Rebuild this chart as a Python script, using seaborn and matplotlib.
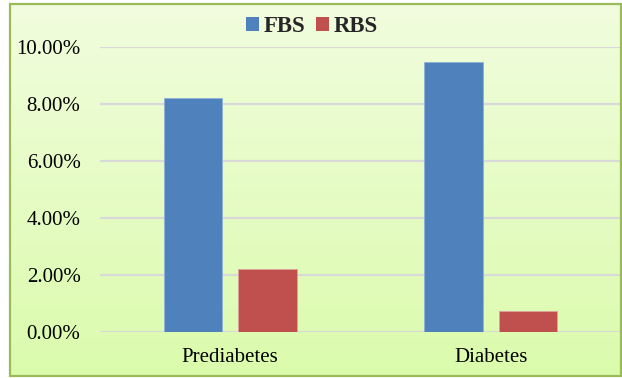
import numpy as np
import pandas as pd
import matplotlib
matplotlib.use("Agg")
import matplotlib.pyplot as plt
from matplotlib.patches import Rectangle, Patch
from matplotlib.ticker import PercentFormatter
import seaborn as sns

categories = ["Prediabetes", "Diabetes"]
fbs_values = [0.0821, 0.0946]
rbs_values = [0.0222, 0.0076]
series_names = ["FBS", "RBS"]
y_ticks = [0.0, 0.02, 0.04, 0.06, 0.08, 0.10]

df = pd.DataFrame({
    "group": categories * 2,
    "test": [series_names[0]] * 2 + [series_names[1]] * 2,
    "value": fbs_values + rbs_values,
})

sns.set_theme(style="white")
plt.rcParams["font.family"] = ["Liberation Serif", "DejaVu Serif"]

W, H = 622, 378
fig = plt.figure(figsize=(W / 100, H / 100), dpi=100)
fig.patch.set_facecolor("white")

# gradient panel inside the chart border
bx0, by0, bx1, by1 = 10, 4, 621, 376
bg = fig.add_axes([bx0 / W, 1 - by1 / H, (bx1 - bx0) / W, (by1 - by0) / H], zorder=0)
top = np.array([241, 253, 222]) / 255
bot = np.array([219, 251, 172]) / 255
t = np.linspace(0, 1, 256)[:, None]
grad = (top[None, :] * (1 - t) + bot[None, :] * t)[:, None, :]
bg.imshow(grad, aspect="auto", extent=[0, 1, 0, 1], interpolation="bilinear")
bg.set_axis_off()
fig.patches.append(Rectangle((bx0 / W, 1 - by1 / H), (bx1 - bx0) / W, (by1 - by0) / H,
                             transform=fig.transFigure, fill=False,
                             edgecolor="#9BBB59", linewidth=1.6, zorder=5))

# plotting area
left, right, ytop, ybot = 100, 621, 46.7, 332.3
ax = fig.add_axes([left / W, 1 - ybot / H, (right - left) / W, (ybot - ytop) / H], zorder=1)
ax.patch.set_alpha(0)

palette = {"FBS": "#4F81BD", "RBS": "#C0504D"}
sns.barplot(data=df, x="group", y="value", hue="test", order=categories,
            hue_order=series_names, palette=palette, width=0.57, gap=0.21,
            saturation=1, ax=ax, zorder=3, legend=False)
for bar, ec in zip(ax.patches, ["#8FB0DA", "#8FB0DA", "#E0A09E", "#E0A09E"]):
    bar.set_edgecolor(ec)
    bar.set_linewidth(0.6)

ax.set_xlim(-0.5, 1.5)
ax.set_ylim(0, 0.10)
ax.set_yticks(y_ticks)
ax.yaxis.set_major_formatter(PercentFormatter(xmax=1, decimals=2))
ax.grid(axis="y", color="#D9D9D9", linewidth=1.6)
ax.grid(axis="x", visible=False)
ax.set_axisbelow(True)
for s in ax.spines.values():
    s.set_visible(False)
ax.tick_params(axis="y", length=0, pad=14, labelsize=15, labelcolor="black")
ax.tick_params(axis="x", length=0, pad=11, labelsize=15, labelcolor="black")
ax.set_xlabel("")
ax.set_ylabel("")

handles = [Patch(facecolor=palette[n], edgecolor="none") for n in series_names]
fig.legend(handles, series_names, loc="center", bbox_to_anchor=(312 / W, 1 - 27 / H),
           ncol=2, frameon=False, prop={"weight": "bold", "size": 16.5},
           handlelength=0.55, handleheight=0.55, handletextpad=0.2, columnspacing=0.5,
           borderaxespad=0, borderpad=0)

fig.savefig("out.png", dpi=100)
